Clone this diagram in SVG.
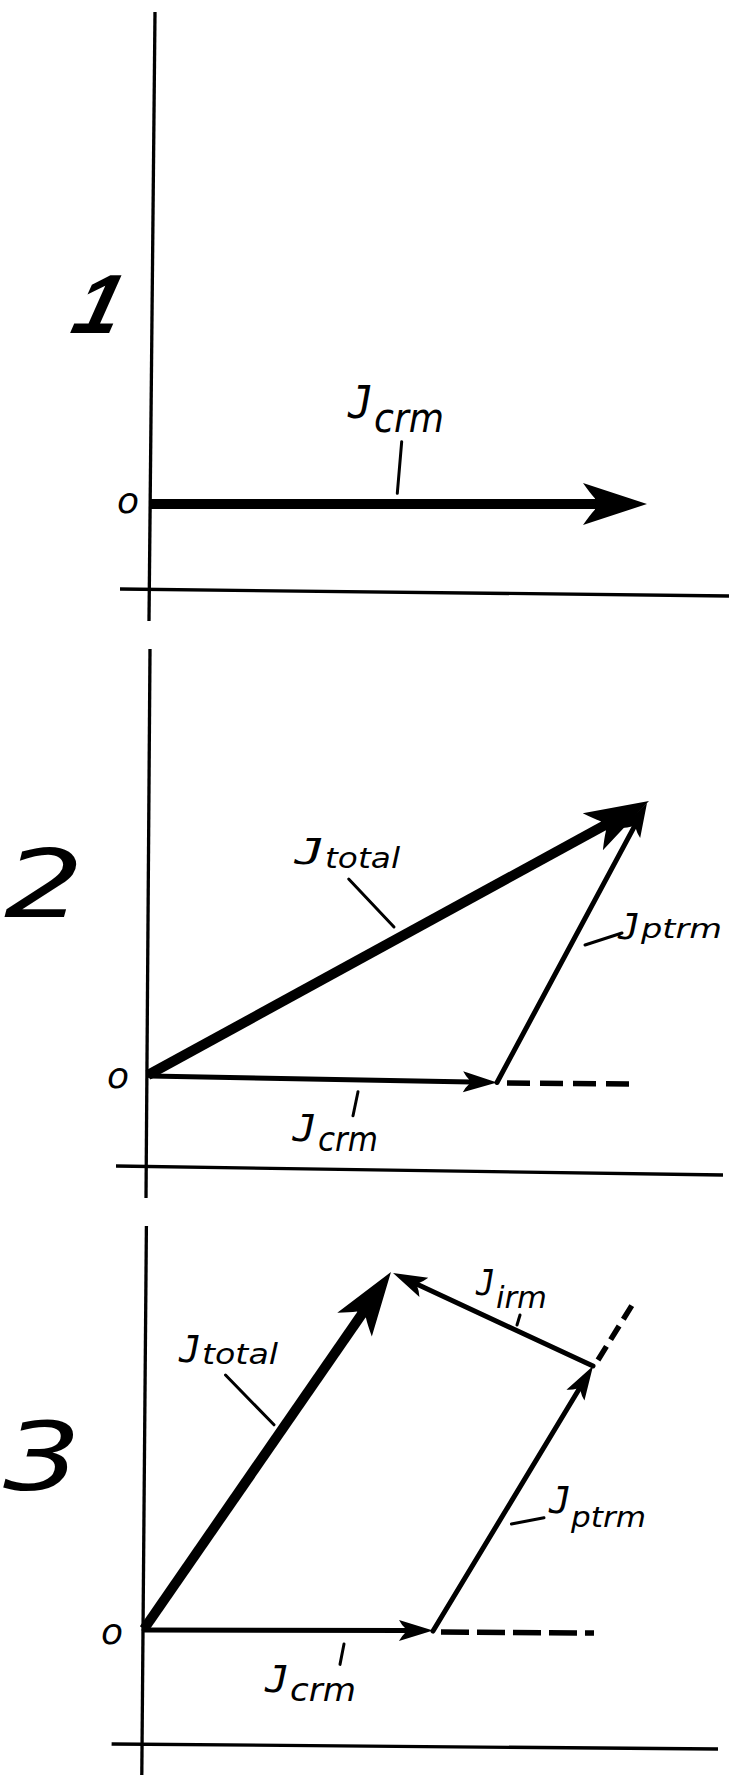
<svg xmlns="http://www.w3.org/2000/svg" width="729" height="1778" viewBox="0 0 729 1778">
  <style>
    .ax { stroke:#000; stroke-width:3.3; fill:none; }
    .thick { stroke:#000; stroke-width:10; fill:none; }
    .thin { stroke:#000; stroke-width:5; fill:none; stroke-linecap:round; }
    .dash { stroke:#000; stroke-width:5.5; fill:none; }
    .lead { stroke:#000; stroke-width:3; fill:none; stroke-linecap:round; }
    text { font-family:"DejaVu Sans", sans-serif; font-style:oblique; fill:#000; }
    .j { font-family:"DejaVu Sans Mono", "DejaVu Sans", monospace; font-style:oblique; }
  </style>
  <defs>
    <marker id="headThick" markerUnits="userSpaceOnUse" orient="auto" refX="0" refY="0" markerWidth="80" markerHeight="60" viewBox="-30 -30 80 60" overflow="visible">
      <path d="M46,0 L-18,-21 Q-11,-11 -6,-5.5 L-6,5.5 Q-11,11 -18,21 Z" fill="#000"/>
    </marker>
    <marker id="headThin" markerUnits="userSpaceOnUse" orient="auto" refX="0" refY="0" markerWidth="50" markerHeight="30" viewBox="-15 -15 50 30" overflow="visible">
      <path d="M26,0 L-8,-10.5 Q-5,-5 -2,-2.4 L-2,2.4 Q-5,5 -8,10.5 Z" fill="#000"/>
    </marker>
  </defs>
  <rect x="0" y="0" width="729" height="1778" fill="#fff"/>

  <g id="panel1">
    <text id="num1" x="0" y="0" transform="translate(92,333) skewX(-14)" style="font-family:'Liberation Sans',sans-serif;font-style:italic;font-weight:bold" font-size="84" text-anchor="middle">1</text>
    <text id="o1" x="128" y="513" font-size="36" text-anchor="middle">o</text>
    <text id="label-crm1"><tspan class="j" x="348" y="418" font-size="44" textLength="25" lengthAdjust="spacingAndGlyphs">J</tspan><tspan x="374" y="432" font-size="40" textLength="70" lengthAdjust="spacingAndGlyphs">crm</tspan></text>
  </g>

  <g id="panel2">
    <text id="num2" x="4" y="917" font-size="95" textLength="80" lengthAdjust="spacingAndGlyphs">2</text>
    <text id="o2" x="118" y="1088" font-size="36" text-anchor="middle">o</text>
    <text id="label-total2"><tspan class="j" x="294.5" y="864" font-size="36" textLength="30" lengthAdjust="spacingAndGlyphs">J</tspan><tspan x="325" y="868" font-size="28" textLength="75" lengthAdjust="spacingAndGlyphs">total</tspan></text>
    <text id="label-ptrm2"><tspan class="j" x="618" y="939" font-size="36" textLength="22" lengthAdjust="spacingAndGlyphs">J</tspan><tspan x="641" y="938" font-size="27" textLength="81" lengthAdjust="spacingAndGlyphs">ptrm</tspan></text>
    <text id="label-crm2"><tspan class="j" x="292.5" y="1141" font-size="38" textLength="24" lengthAdjust="spacingAndGlyphs">J</tspan><tspan x="318" y="1151" font-size="33" textLength="60" lengthAdjust="spacingAndGlyphs">crm</tspan></text>
  </g>

  <g id="panel3">
    <text id="num3" x="3" y="1490" font-size="95" textLength="78" lengthAdjust="spacingAndGlyphs">3</text>
    <text id="o3" x="112" y="1644" font-size="36" text-anchor="middle">o</text>
    <text id="label-total3"><tspan class="j" x="179" y="1362" font-size="37" textLength="22" lengthAdjust="spacingAndGlyphs">J</tspan><tspan x="202" y="1364" font-size="29" textLength="76" lengthAdjust="spacingAndGlyphs">total</tspan></text>
    <text id="label-irm3"><tspan class="j" x="476" y="1295" font-size="36" textLength="19" lengthAdjust="spacingAndGlyphs">J</tspan><tspan x="496" y="1308" font-size="30" textLength="51" lengthAdjust="spacingAndGlyphs">irm</tspan></text>
    <text id="label-ptrm3"><tspan class="j" x="549" y="1513" font-size="37" textLength="22" lengthAdjust="spacingAndGlyphs">J</tspan><tspan x="571" y="1527" font-size="28" textLength="75" lengthAdjust="spacingAndGlyphs">ptrm</tspan></text>
    <text id="label-crm3"><tspan class="j" x="265" y="1692" font-size="37" textLength="24" lengthAdjust="spacingAndGlyphs">J</tspan><tspan x="290" y="1701" font-size="32" textLength="66" lengthAdjust="spacingAndGlyphs">crm</tspan></text>
  </g>

  <g id="connectors">
    <!-- panel 1 -->
    <line class="ax" x1="155" y1="12" x2="149" y2="621"/>
    <line class="ax" x1="120" y1="589" x2="729" y2="596"/>
    <line class="thick" x1="151" y1="504" x2="601" y2="504" marker-end="url(#headThick)"/>
    <line class="lead" x1="401.7" y1="441.7" x2="397.3" y2="493.3"/>

    <!-- panel 2 -->
    <line class="ax" x1="150" y1="649" x2="146" y2="1198"/>
    <line class="ax" x1="116" y1="1166" x2="723" y2="1175"/>
    <line class="thin" x1="150" y1="1076" x2="471" y2="1082" marker-end="url(#headThin)"/>
    <line class="dash" x1="507" y1="1083" x2="630" y2="1084" stroke-dasharray="23 10"/>
    <line class="thin" x1="497" y1="1082.5" x2="634.7" y2="825.9" marker-end="url(#headThin)"/>
    <line class="thick" x1="148" y1="1075" x2="608.6" y2="823.1" marker-end="url(#headThick)"/>
    <line class="lead" x1="348.7" y1="879" x2="394" y2="927"/>
    <line class="lead" x1="585" y1="945" x2="622" y2="933"/>
    <line class="lead" x1="358" y1="1091.7" x2="353" y2="1115.7"/>

    <!-- panel 3 -->
    <line class="ax" x1="146.4" y1="1226" x2="141.8" y2="1775"/>
    <line class="ax" x1="111.6" y1="1744" x2="718" y2="1749"/>
    <line class="thin" x1="144" y1="1630" x2="407" y2="1630.5" marker-end="url(#headThin)"/>
    <line class="dash" x1="441" y1="1632" x2="594" y2="1633" stroke-dasharray="28 8"/>
    <line class="thin" x1="433" y1="1631" x2="579.6" y2="1388.3" marker-end="url(#headThin)"/>
    <line class="dash" x1="598" y1="1360" x2="634" y2="1302" stroke-dasharray="16 8"/>
    <line class="thin" x1="593" y1="1366" x2="416.6" y2="1284" marker-end="url(#headThin)"/>
    <line class="thick" x1="144" y1="1629" x2="364.8" y2="1309.8" marker-end="url(#headThick)"/>
    <line class="lead" x1="225.5" y1="1375" x2="274" y2="1424.8"/>
    <line class="lead" x1="520" y1="1315" x2="517" y2="1325"/>
    <line class="lead" x1="511.4" y1="1524" x2="544" y2="1517.7"/>
    <line class="lead" x1="344" y1="1644" x2="340" y2="1664.4"/>
  </g>
</svg>
